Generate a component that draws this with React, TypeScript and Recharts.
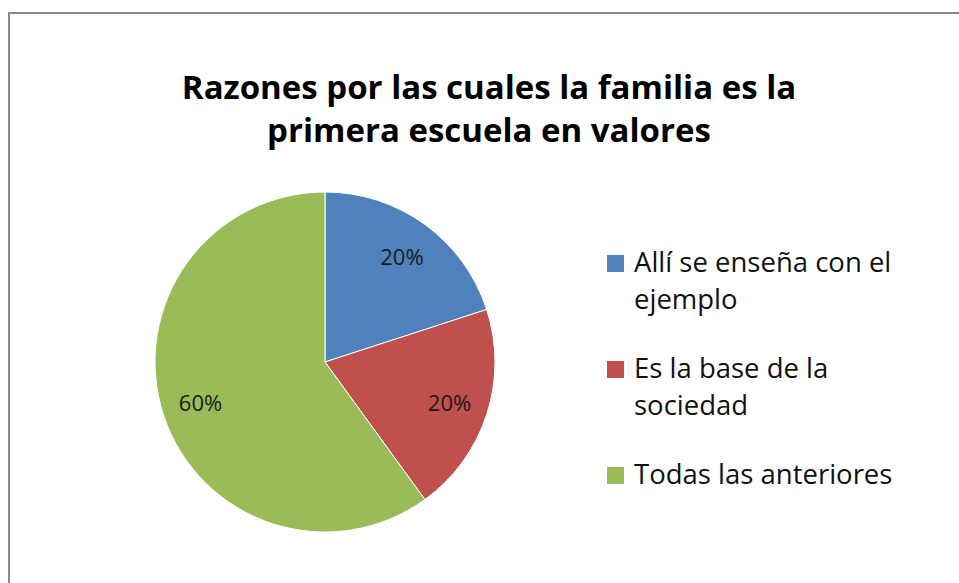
import React from 'react';
import { PieChart, Pie, Cell, Legend } from 'recharts';

const categories = [
  'Allí se enseña con el ejemplo',
  'Es la base de la sociedad',
  'Todas las anteriores',
];
const values = [20, 20, 60];
const colors = ['#4F81BD', '#C0504D', '#9BBB59'];
const titleLines = ['Razones por las cuales la familia es la', 'primera escuela en valores'];

const data = categories.map((name, i) => ({ name, value: values[i] }));

const RAD = Math.PI / 180;

const renderLabel = (props: any) => {
  const { cx, cy, midAngle, outerRadius, percent } = props;
  const r = outerRadius * 0.77;
  const x = cx + r * Math.cos(-midAngle * RAD);
  const y = cy + r * Math.sin(-midAngle * RAD);
  return (
    <text
      x={x}
      y={y}
      fill="#1a1a1a"
      fontSize={22}
      fontFamily="Open Sans"
      textAnchor="middle"
      dominantBaseline="central"
    >
      {`${Math.round(percent * 100)}%`}
    </text>
  );
};

const renderLegend = (props: any) => {
  const { payload } = props;
  return (
    <div style={{ fontFamily: 'Open Sans', fontSize: 27.5, lineHeight: '37px', color: '#111' }}>
      {payload.map((entry: any, i: number) => (
        <div key={i} style={{ display: 'flex', marginBottom: 32 }}>
          <div
            style={{
              width: 17,
              height: 17,
              background: entry.color,
              marginTop: 12,
              marginRight: 10,
              flexShrink: 0,
            }}
          />
          <div style={{ width: 275 }}>{entry.value}</div>
        </div>
      ))}
    </div>
  );
};

export default function App() {
  return (
    <div
      style={{
        position: 'fixed',
        top: 0,
        left: 0,
        width: 959,
        height: 583,
        overflow: 'hidden',
        background: '#fff',
      }}
    >
      <div
        style={{
          position: 'absolute',
          top: 12,
          left: 8,
          width: 1100,
          height: 700,
          borderTop: '2px solid #898989',
          borderLeft: '2px solid #898989',
        }}
      />
      <div
        style={{
          position: 'absolute',
          top: 65,
          left: 8,
          width: 962,
          textAlign: 'center',
          fontFamily: 'Open Sans',
          fontWeight: 'bold',
          fontSize: 33,
          lineHeight: '43px',
          color: '#000',
        }}
      >
        {titleLines.map((t, i) => (
          <div key={i}>{t}</div>
        ))}
      </div>
      <div style={{ position: 'absolute', top: 0, left: 0 }}>
        <PieChart width={959} height={583} margin={{ top: 0, right: 0, bottom: 0, left: 0 }}>
          <Pie
            data={data}
            dataKey="value"
            nameKey="name"
            cx={325}
            cy={362}
            outerRadius={170}
            startAngle={90}
            endAngle={-270}
            stroke="#fff"
            strokeWidth={1}
            label={renderLabel}
            labelLine={false}
            isAnimationActive={false}
          >
            {data.map((d, i) => (
              <Cell key={d.name} fill={colors[i]} />
            ))}
          </Pie>
          <Legend
            layout="vertical"
            align="right"
            verticalAlign="top"
            content={renderLegend}
            wrapperStyle={{ position: 'absolute', left: 607, top: 243, width: 320 }}
          />
        </PieChart>
      </div>
    </div>
  );
}
